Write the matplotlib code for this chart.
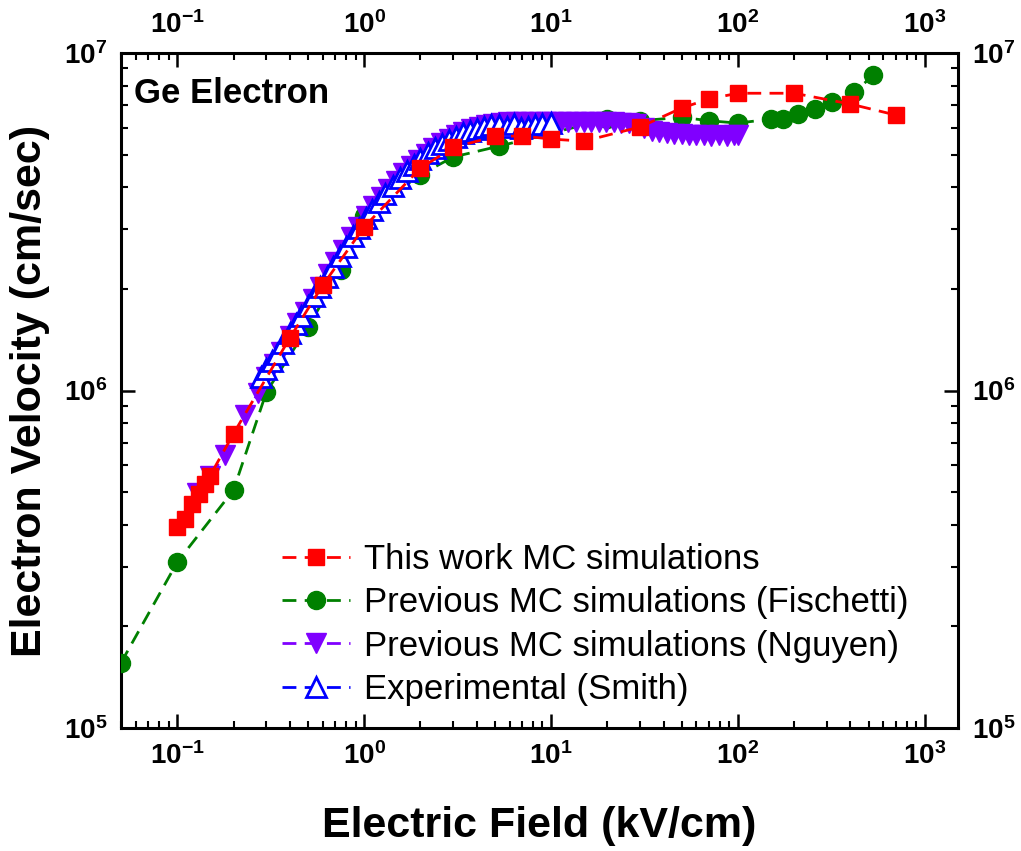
import matplotlib
matplotlib.use("Agg")
import matplotlib.pyplot as plt
from matplotlib.ticker import FuncFormatter, LogLocator
import numpy as np

plt.rcParams['font.family'] = ['Liberation Sans', 'DejaVu Sans']
plt.rcParams['mathtext.fontset'] = 'custom'
plt.rcParams['mathtext.rm'] = 'Liberation Sans'
plt.rcParams['mathtext.bf'] = 'Liberation Sans:bold'

# This work MC simulations
red_x = [0.1, 0.11, 0.12, 0.13, 0.14, 0.15, 0.2, 0.4, 0.6, 1.0, 2.0, 3.0, 5.0, 7.0,
         10, 15, 30, 50, 70, 100, 200, 400, 700]
red_v = [3.95e5, 4.15e5, 4.6e5, 4.95e5, 5.3e5, 5.6e5, 7.45e5, 1.43e6, 2.05e6, 3.05e6,
         4.56e6, 5.25e6, 5.66e6, 5.68e6, 5.56e6, 5.48e6, 6.04e6, 6.87e6, 7.31e6, 7.6e6,
         7.6e6, 7.06e6, 6.55e6]

# Previous MC simulations (Fischetti)
green_x = [0.05, 0.1, 0.2, 0.3, 0.5, 0.75, 1.0, 2.0, 3.0, 5.3, 20, 30, 50, 70, 100,
           150, 175, 210, 260, 320, 420, 530]
green_v = [1.56e5, 3.1e5, 5.07e5, 9.9e5, 1.54e6, 2.27e6, 3.3e6, 4.36e6, 4.92e6, 5.3e6,
           6.37e6, 6.3e6, 6.45e6, 6.3e6, 6.2e6, 6.37e6, 6.37e6, 6.59e6, 6.82e6, 7.16e6,
           7.65e6, 8.6e6]

# Previous MC simulations (Nguyen)
purple_x = [0.128, 0.15, 0.18, 0.23, 0.27, 0.3, 0.33, 0.36, 0.4, 0.44, 0.48, 0.53,
            0.58, 0.64, 0.7, 0.77, 0.85, 0.93, 1.02, 1.12, 1.23, 1.35, 1.48, 1.62,
            1.78, 1.95, 2.14, 2.35, 2.58, 2.83, 3.1, 3.4, 3.73, 4.1, 4.5, 4.9, 5.4,
            5.9, 6.5, 7.1, 7.8, 8.6, 9.4, 10.3, 11.3, 12.4, 13.6, 15, 16.4, 18, 19.8,
            21.7, 23.8, 26.1, 28.6, 31.4, 34.5, 37.8, 41.5, 45.5, 50, 55, 60, 66, 72,
            79, 87, 95, 100]
purple_v = [4.97e5, 5.6e5, 6.44e5, 8.45e5, 9.8e5, 1.1e6, 1.2e6, 1.3e6, 1.45e6,
            1.58e6, 1.71e6, 1.87e6, 2.03e6, 2.21e6, 2.4e6, 2.61e6, 2.85e6, 3.06e6,
            3.29e6, 3.51e6, 3.74e6, 3.96e6, 4.18e6, 4.4e6, 4.62e6, 4.83e6, 5.03e6,
            5.22e6, 5.4e6, 5.56e6, 5.7e6, 5.83e6, 5.95e6, 6.05e6, 6.12e6, 6.18e6,
            6.22e6, 6.25e6, 6.25e6, 6.24e6, 6.25e6, 6.26e6, 6.25e6, 6.24e6, 6.25e6,
            6.26e6, 6.25e6, 6.24e6, 6.25e6, 6.26e6, 6.25e6, 6.24e6, 6.22e6, 6.2e6,
            6.15e6, 6.0e6, 5.88e6, 5.82e6, 5.78e6, 5.76e6, 5.74e6, 5.72e6, 5.72e6,
            5.7e6, 5.69e6, 5.7e6, 5.68e6, 5.7e6, 5.7e6]

# Experimental (Smith)
blue_x = [0.28, 0.3, 0.32, 0.34, 0.37, 0.4, 0.43, 0.46, 0.5, 0.54, 0.58, 0.63, 0.68,
          0.74, 0.8, 0.87, 0.94, 1.02, 1.1, 1.2, 1.3, 1.42, 1.55, 1.7, 1.85, 2.0, 2.2,
          2.4, 2.6, 2.85, 3.1, 3.4, 3.7, 4.0, 4.4, 4.8, 5.3, 5.8, 6.3, 6.9, 7.5, 8.2,
          9.0, 10.0]
blue_v = [1.1e6, 1.16e6, 1.22e6, 1.28e6, 1.38e6, 1.48e6, 1.57e6, 1.66e6, 1.78e6,
          1.9e6, 2.02e6, 2.17e6, 2.32e6, 2.5e6, 2.67e6, 2.86e6, 3.04e6, 3.24e6,
          3.42e6, 3.62e6, 3.82e6, 4.03e6, 4.25e6, 4.47e6, 4.67e6, 4.85e6, 5.05e6,
          5.22e6, 5.37e6, 5.52e6, 5.65e6, 5.78e6, 5.88e6, 5.95e6, 6.05e6, 6.1e6,
          6.1e6, 6.05e6, 6.15e6, 6.0e6, 6.05e6, 6.1e6, 6.15e6, 6.2e6]

fig = plt.figure(figsize=(10.21, 8.51), dpi=100)
ax = fig.add_axes([0.1185, 0.1445, 0.8195, 0.7932])

dash = (5, 3)
ax.plot(red_x, red_v, ls='--', dashes=dash, color='#FF0000', lw=2, marker='s', ms=12,
        mec='#FF0000', mfc='#FF0000', zorder=6, label='This work MC simulations')
ax.plot(green_x, green_v, ls='--', dashes=dash, color='#008000', lw=2, marker='o', ms=13,
        mec='#008000', mfc='#008000', zorder=3,
        label='Previous MC simulations (Fischetti)')
ax.plot(purple_x, purple_v, ls='--', dashes=dash, color='#8000FF', lw=2, marker='v', ms=15,
        mec='#8000FF', mfc='#8000FF', zorder=4,
        label='Previous MC simulations (Nguyen)')
ax.plot(blue_x, blue_v, ls='--', dashes=dash, color='#0000FF', lw=2, marker='^', ms=14,
        mec='#0000FF', mfc='white', mew=2, zorder=5, label='Experimental (Smith)')

ax.set_xscale('log')
ax.set_yscale('log')
ax.set_xlim(0.05, 1500)
ax.set_ylim(1e5, 1e7)

fmt = FuncFormatter(lambda v, p: r'$\mathbf{10^{%d}}$' % int(round(np.log10(v))))
ax.xaxis.set_major_formatter(fmt)
ax.yaxis.set_major_formatter(fmt)
ax.xaxis.set_major_locator(LogLocator(base=10, numticks=20))
ax.yaxis.set_major_locator(LogLocator(base=10, numticks=20))

ax.tick_params(which='both', direction='in', top=True, right=True,
               labeltop=True, labelright=True, labelsize=20)
ax.tick_params(which='major', length=10, width=1.8, pad=10)
ax.tick_params(which='minor', length=5, width=1.5)
for s in ax.spines.values():
    s.set_linewidth(2.2)

ax.set_xlabel('Electric Field (kV/cm)', fontsize=31, fontweight='bold', labelpad=26)
ax.set_ylabel('Electron Velocity (cm/sec)', fontsize=31, fontweight='bold', labelpad=10)

ax.text(0.015, 0.965, 'Ge Electron', transform=ax.transAxes, fontsize=25,
        fontweight='bold', va='top', ha='left')

ax.legend(loc='lower left', bbox_to_anchor=(0.176, 0.012), frameon=False, fontsize=25,
          handlelength=1.95, handletextpad=0.42, labelspacing=0.3, borderaxespad=0,
          numpoints=1)

fig.savefig('out.png', dpi=100)
